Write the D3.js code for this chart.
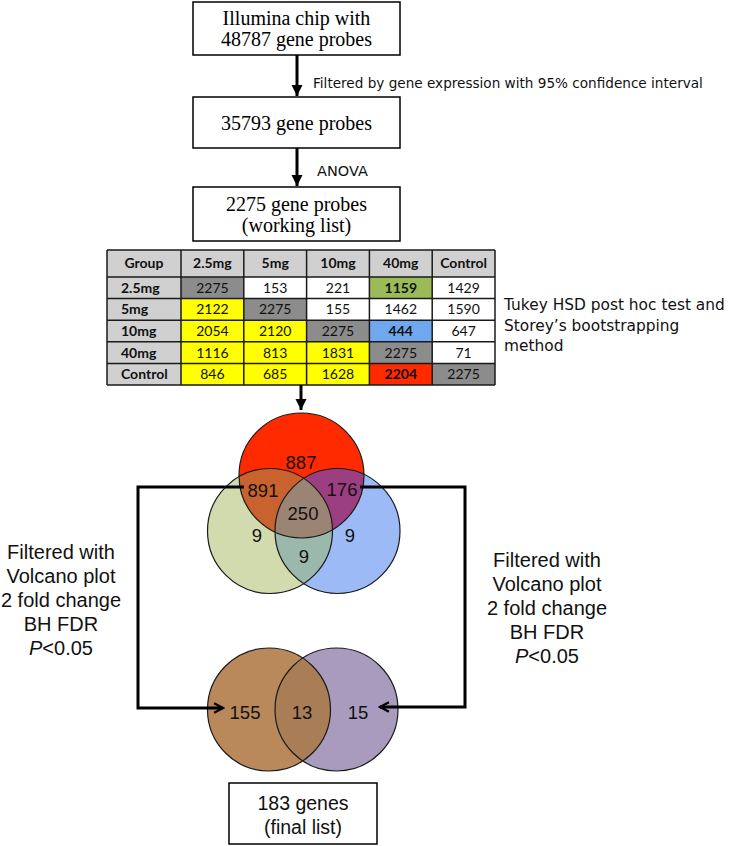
<!DOCTYPE html>
<html>
<head>
<meta charset="utf-8">
<script src="https://cdn.jsdelivr.net/npm/d3@7"></script>
<style>
  body { margin: 0; background: #fff; }
</style>
</head>
<body>
<div id="my_dataviz"></div>
<script>
// flow steps (boxes at the top)
var steps = [
  ["Illumina chip with", "48787 gene probes"],
  ["35793 gene probes"],
  ["2275 gene probes", "(working list)"]
];
var stepLabels = ["Filtered by gene expression with 95% confidence interval", "ANOVA"];

// pairwise comparison table
var groups = ["2.5mg", "5mg", "10mg", "40mg", "Control"];
var counts = [
  [2275, 153, 221, 1159, 1429],
  [2122, 2275, 155, 1462, 1590],
  [2054, 2120, 2275, 444, 647],
  [1116, 813, 1831, 2275, 71],
  [846, 685, 1628, 2204, 2275]
];
// highlighted cells: [row, column, colour]
var highlights = [
  ["2.5mg", "40mg", "#9bbb59"],
  ["10mg", "40mg", "#6fa8ee"],
  ["Control", "40mg", "#ff2a00"]
];
var tableNote = ["Tukey HSD post hoc test and", "Storey\u2019s bootstrapping", "method"];

// venn counts
var venn3 = {red: 887, redGreen: 891, redBlue: 176, all: 250, green: 9, greenBlue: 9, blue: 9};
var venn2 = {left: 155, both: 13, right: 15};
var filterText = ["Filtered with", "Volcano plot", "2 fold change", "BH FDR", "P<0.05"];
var finalBox = ["183 genes", "(final list)"];

var width = 731, height = 846;

var svg = d3.select("#my_dataviz")
  .append("svg")
    .attr("width", width)
    .attr("height", height);

var defs = svg.append("defs");

// filled arrowhead
defs.append("marker")
    .attr("id", "head")
    .attr("viewBox", "0 0 10 10")
    .attr("refX", 10).attr("refY", 5)
    .attr("markerWidth", 3.8).attr("markerHeight", 3.8)
    .attr("markerUnits", "strokeWidth")
    .attr("orient", "auto")
  .append("path")
    .attr("d", "M0,0 L10,5 L0,10 Z")
    .attr("fill", "#000");

// open chevron arrowhead
defs.append("marker")
    .attr("id", "chev")
    .attr("viewBox", "0 0 12 12")
    .attr("refX", 10.5).attr("refY", 6)
    .attr("markerWidth", 4.2).attr("markerHeight", 4.2)
    .attr("markerUnits", "strokeWidth")
    .attr("orient", "auto")
  .append("path")
    .attr("d", "M2,1.5 L10.5,6 L2,10.5")
    .attr("fill", "none")
    .attr("stroke", "#000")
    .attr("stroke-width", 2)
    .attr("stroke-linejoin", "miter");

// ---- top boxes
var boxes = [
  {x: 193, y: 2, w: 207, h: 53},
  {x: 193, y: 97, w: 207, h: 51},
  {x: 193, y: 187, w: 207, h: 54}
];

boxes.forEach(function(b, i) {
  svg.append("rect")
    .attr("x", b.x).attr("y", b.y)
    .attr("width", b.w).attr("height", b.h)
    .attr("fill", "#fff")
    .attr("stroke", "#000")
    .attr("stroke-width", 1.5);
  var lines = steps[i];
  var lh = 21;
  var y0 = b.y + b.h / 2 - (lines.length - 1) * lh / 2;
  svg.selectAll(null)
    .data(lines)
    .join("text")
      .attr("x", b.x + b.w / 2)
      .attr("y", function(d, j) { return y0 + j * lh; })
      .attr("dy", "0.35em")
      .attr("text-anchor", "middle")
      .style("font-family", "Liberation Serif")
      .style("font-size", "20px")
      .text(function(d) { return d; });
});

// arrows between boxes
var ax = 297;
[[55, 96, 88], [148, 186, 176]].forEach(function(a, i) {
  svg.append("line")
    .attr("x1", ax).attr("x2", ax)
    .attr("y1", a[0]).attr("y2", a[1])
    .attr("stroke", "#000")
    .attr("stroke-width", 3)
    .attr("marker-end", "url(#head)");
  svg.append("text")
    .attr("x", i == 0 ? 313 : 317)
    .attr("y", a[2])
    .style("font-family", "DejaVu Sans")
    .style("font-size", i == 0 ? "13.6px" : "14.5px")
    .style("fill", "#111")
    .text(stepLabels[i]);
});

// ---- table
var tLeft = 107, firstW = 74, tRight = 495, tTop = 250, headH = 27, tBottom = 385;

var x = d3.scaleBand()
  .domain(groups)
  .range([tLeft + firstW, tRight]);

var y = d3.scaleBand()
  .domain(groups)
  .range([tTop + headH, tBottom]);

var cellColor = function(r, c) {
  var h = highlights.find(function(d) { return d[0] == groups[r] && d[1] == groups[c]; });
  if (h) return h[2];
  if (r == c) return "#8c8c8c";
  if (r > c) return "#ffff00";
  return "#fff";
};

var cells = [];
counts.forEach(function(row, r) {
  row.forEach(function(v, c) {
    cells.push({r: r, c: c, v: v});
  });
});

var table = svg.append("g");

// header row
table.append("rect")
  .attr("x", tLeft).attr("y", tTop)
  .attr("width", tRight - tLeft).attr("height", headH)
  .attr("fill", "#d0d0d0");
// first column
table.append("rect")
  .attr("x", tLeft).attr("y", tTop + headH)
  .attr("width", firstW).attr("height", tBottom - tTop - headH)
  .attr("fill", "#d0d0d0");

table.selectAll(".cell")
  .data(cells)
  .join("rect")
    .attr("class", "cell")
    .attr("x", function(d) { return x(groups[d.c]); })
    .attr("y", function(d) { return y(groups[d.r]); })
    .attr("width", x.bandwidth())
    .attr("height", y.bandwidth())
    .attr("fill", function(d) { return cellColor(d.r, d.c); });

// grid lines
var gridStroke = "#1a1a1a";
table.selectAll(".vline")
  .data([tLeft, tLeft + firstW].concat(groups.slice(1).map(function(g) { return x(g); })).concat([tRight]))
  .join("line")
    .attr("x1", function(d) { return d; })
    .attr("x2", function(d) { return d; })
    .attr("y1", tTop).attr("y2", tBottom)
    .attr("stroke", gridStroke)
    .attr("stroke-width", 1.5);

table.selectAll(".hline")
  .data([tTop].concat(groups.map(function(g) { return y(g); })).concat([tBottom]))
  .join("line")
    .attr("x1", tLeft).attr("x2", tRight)
    .attr("y1", function(d) { return d; })
    .attr("y2", function(d) { return d; })
    .attr("stroke", gridStroke)
    .attr("stroke-width", 1.5);

var tFont = "Lato";
var tSize = "14px";

table.selectAll(".colhead")
  .data(["Group"].concat(groups))
  .join("text")
    .attr("x", function(d, i) { return i == 0 ? tLeft + firstW / 2 : x(d) + x.bandwidth() / 2; })
    .attr("y", tTop + headH / 2)
    .attr("dy", "0.35em")
    .attr("text-anchor", "middle")
    .style("font-family", tFont)
    .style("font-size", tSize)
    .style("font-weight", "bold")
    .style("fill", "#111")
    .text(function(d) { return d; });

table.selectAll(".rowhead")
  .data(groups)
  .join("text")
    .attr("x", tLeft + 14)
    .attr("y", function(d) { return y(d) + y.bandwidth() / 2; })
    .attr("dy", "0.35em")
    .style("font-family", tFont)
    .style("font-size", tSize)
    .style("font-weight", "bold")
    .style("fill", "#111")
    .text(function(d) { return d; });

table.selectAll(".val")
  .data(cells)
  .join("text")
    .attr("x", function(d) { return x(groups[d.c]) + x.bandwidth() / 2; })
    .attr("y", function(d) { return y(groups[d.r]) + y.bandwidth() / 2; })
    .attr("dy", "0.35em")
    .attr("text-anchor", "middle")
    .style("font-family", tFont)
    .style("font-size", tSize)
    .style("font-weight", function(d) {
      return highlights.some(function(h) { return h[0] == groups[d.r] && h[1] == groups[d.c]; }) ? "bold" : "normal";
    })
    .style("fill", "#111")
    .text(function(d) { return d.v; });

svg.selectAll(".note")
  .data(tableNote)
  .join("text")
    .attr("x", 504)
    .attr("y", function(d, i) { return 305 + i * 20.5; })
    .attr("dy", "0.35em")
    .style("font-family", "DejaVu Sans")
    .style("font-size", "15.4px")
    .style("fill", "#111")
    .text(function(d) { return d; });

// arrow table -> venn
svg.append("line")
  .attr("x1", 301).attr("x2", 301)
  .attr("y1", tBottom).attr("y2", 410)
  .attr("stroke", "#000")
  .attr("stroke-width", 3)
  .attr("marker-end", "url(#head)");

// ---- three-way venn
var r3 = 62.5;
var red = {x: 301.5, y: 475.5}, green = {x: 270, y: 531}, blue = {x: 337.5, y: 531};

defs.append("clipPath").attr("id", "clipGreen")
  .append("circle").attr("cx", green.x).attr("cy", green.y).attr("r", r3);
defs.append("clipPath").attr("id", "clipBlue")
  .append("circle").attr("cx", blue.x).attr("cy", blue.y).attr("r", r3);

var v3 = svg.append("g");
function circ(g, c, r, fill) {
  return g.append("circle").attr("cx", c.x).attr("cy", c.y).attr("r", r).attr("fill", fill);
}
circ(v3, green, r3, "#d1dbae");
circ(v3, blue, r3, "#9cbaf5");
circ(v3, red, r3, "#ff2a00");
circ(v3.append("g").attr("clip-path", "url(#clipGreen)"), red, r3, "#c9622f");
circ(v3.append("g").attr("clip-path", "url(#clipBlue)"), red, r3, "#9c3f80");
circ(v3.append("g").attr("clip-path", "url(#clipBlue)"), green, r3, "#9bb8ad");
circ(v3.append("g").attr("clip-path", "url(#clipGreen)"), red, r3, "#9c8474")
  .attr("clip-path", "url(#clipBlue)");

[red, green, blue].forEach(function(c) {
  circ(v3, c, r3, "none").attr("stroke", "#1a1a1a").attr("stroke-width", 1.2);
});

var v3labels = [
  [venn3.red, 301, 463], [venn3.redGreen, 263, 491], [venn3.redBlue, 342, 490],
  [venn3.all, 303, 514], [venn3.green, 257, 536], [venn3.greenBlue, 304, 557],
  [venn3.blue, 350, 536]
];
v3.selectAll(".lab")
  .data(v3labels)
  .join("text")
    .attr("x", function(d) { return d[1]; })
    .attr("y", function(d) { return d[2]; })
    .attr("dy", "0.35em")
    .attr("text-anchor", "middle")
    .style("font-family", "Liberation Sans")
    .style("font-size", "18.5px")
    .style("fill", "#111")
    .text(function(d) { return d[0]; });

// ---- two-way venn
var r2 = 61.5;
var left = {x: 269, y: 709.5}, right = {x: 336.5, y: 709.5};
defs.append("clipPath").attr("id", "clipRight")
  .append("circle").attr("cx", right.x).attr("cy", right.y).attr("r", r2);

var v2 = svg.append("g");
circ(v2, right, r2, "#a89bbd");
circ(v2, left, r2, "#b9895c");
circ(v2.append("g").attr("clip-path", "url(#clipRight)"), left, r2, "#a97d55");
[left, right].forEach(function(c) {
  circ(v2, c, r2, "none").attr("stroke", "#1a1a1a").attr("stroke-width", 1.2);
});

v2.selectAll(".lab")
  .data([[venn2.left, 245], [venn2.both, 302], [venn2.right, 358]])
  .join("text")
    .attr("x", function(d) { return d[1]; })
    .attr("y", 713)
    .attr("dy", "0.35em")
    .attr("text-anchor", "middle")
    .style("font-family", "Liberation Sans")
    .style("font-size", "18.5px")
    .style("fill", "#111")
    .text(function(d) { return d[0]; });

// ---- connector brackets
var line = d3.line();
svg.append("path")
  .attr("d", line([[244, 487], [138, 487], [138, 708], [223, 708]]))
  .attr("fill", "none")
  .attr("stroke", "#000")
  .attr("stroke-width", 3)
  .attr("stroke-linejoin", "miter")
  .attr("marker-end", "url(#chev)");

svg.append("path")
  .attr("d", line([[360, 487], [465, 487], [465, 707], [380, 707]]))
  .attr("fill", "none")
  .attr("stroke", "#000")
  .attr("stroke-width", 3)
  .attr("stroke-linejoin", "miter")
  .attr("marker-end", "url(#chev)");

// side labels
function sideText(cx, y0) {
  var t = svg.append("g");
  t.selectAll("text")
    .data(filterText)
    .join("text")
      .attr("x", cx)
      .attr("y", function(d, i) { return y0 + i * 24; })
      .attr("dy", "0.35em")
      .attr("text-anchor", "middle")
      .style("font-family", "Liberation Sans")
      .style("font-size", "20px")
      .style("fill", "#111")
      .each(function(d) {
        var el = d3.select(this);
        if (d.charAt(0) == "P" && d.charAt(1) == "<") {
          el.append("tspan").style("font-style", "italic").text("P");
          el.append("tspan").text(d.slice(1));
        } else {
          el.text(d);
        }
      });
}
sideText(61, 552);
sideText(547, 560);

// final box
svg.append("rect")
  .attr("x", 229).attr("y", 783)
  .attr("width", 148).attr("height", 61)
  .attr("fill", "#fff")
  .attr("stroke", "#000")
  .attr("stroke-width", 1.5);

svg.selectAll(".final")
  .data(finalBox)
  .join("text")
    .attr("x", 303)
    .attr("y", function(d, i) { return 803 + i * 24; })
    .attr("dy", "0.35em")
    .attr("text-anchor", "middle")
    .style("font-family", "Liberation Sans")
    .style("font-size", "19.5px")
    .style("fill", "#111")
    .text(function(d) { return d; });
</script>
</body>
</html>
